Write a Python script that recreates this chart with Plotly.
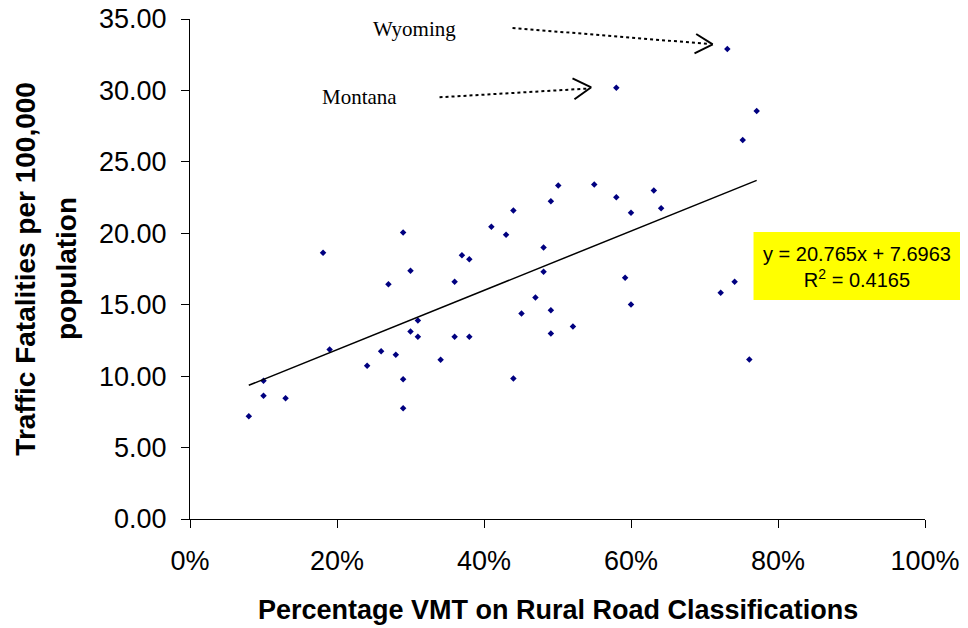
import plotly.graph_objects as go

# Share of VMT on rural road classifications (fraction) vs traffic fatalities per 100,000
rural_vmt_share = [0.080, 0.100, 0.100, 0.130, 0.181, 0.190, 0.241, 0.260, 0.270, 0.280,
                   0.290, 0.290, 0.290, 0.300, 0.300, 0.310, 0.310, 0.341, 0.360, 0.360,
                   0.370, 0.380, 0.380, 0.410, 0.430, 0.440, 0.440, 0.451, 0.470, 0.481,
                   0.481, 0.491, 0.491, 0.491, 0.501, 0.521, 0.550, 0.580, 0.580, 0.592,
                   0.600, 0.600, 0.631, 0.641, 0.722, 0.731, 0.741, 0.752, 0.761, 0.771]
fatality_rate = [7.20, 9.68, 8.63, 8.46, 18.63, 11.87, 10.73, 11.75, 16.43, 11.49,
                 20.05, 9.79, 7.76, 17.37, 13.13, 13.90, 12.75, 11.15, 16.60, 12.75,
                 18.46, 18.18, 12.75, 20.45, 19.89, 21.59, 9.84, 14.38, 15.50, 19.00,
                 17.30, 22.24, 14.62, 12.99, 23.34, 13.48, 23.41, 22.52, 30.19, 16.88,
                 21.43, 15.01, 23.00, 21.75, 15.83, 32.90, 16.60, 26.53, 11.17, 28.56]

trend_slope = 20.765
trend_intercept = 7.6963
trend_r2 = 0.4165

x_ticks = [0, 0.2, 0.4, 0.6, 0.8, 1.0]
y_ticks = [0, 5, 10, 15, 20, 25, 30, 35]

SANS = "Liberation Sans, Arial, sans-serif"
SERIF = "Liberation Serif, Times New Roman, serif"

fig = go.Figure()
fig.add_trace(go.Scatter(
    x=rural_vmt_share, y=fatality_rate, mode="markers",
    marker=dict(symbol="diamond", size=5, color="#000080", line=dict(width=0)),
    showlegend=False, hoverinfo="x+y"))

tx = [min(rural_vmt_share), max(rural_vmt_share)]
ty = [trend_slope * v + trend_intercept for v in tx]
fig.add_trace(go.Scatter(x=tx, y=ty, mode="lines",
                         line=dict(color="black", width=1.5),
                         showlegend=False, hoverinfo="skip"))

fig.update_layout(
    width=968, height=628,
    margin=dict(l=182, r=51, t=11, b=117, autoexpand=False),
    paper_bgcolor="white", plot_bgcolor="white",
    font=dict(family=SANS, color="black"),
    xaxis=dict(range=[0, 1], tickvals=x_ticks, tickformat=".0%", automargin=False,
               showgrid=False, zeroline=False, showline=True, linecolor="black",
               linewidth=1, ticks="outside", ticklen=8, tickcolor="black",
               tickfont=dict(size=27, family=SANS), ticklabelstandoff=10,
               ticklabeloverflow="allow"),
    yaxis=dict(range=[0, 35], tickvals=y_ticks, tickformat=".2f", automargin=False,
               showgrid=False, zeroline=False, showline=True, linecolor="black",
               linewidth=1, ticks="outside", ticklen=8, tickcolor="black",
               tickfont=dict(size=27, family=SANS), ticklabelstandoff=9,
               ticklabeloverflow="allow"),
)

# Axis titles
fig.add_annotation(text="<b>Percentage VMT on Rural Road Classifications</b>",
                   xref="paper", yref="paper", x=0.5, y=-0.182,
                   xanchor="center", yanchor="middle", showarrow=False,
                   font=dict(size=27, family=SANS))
fig.add_annotation(text="<b>Traffic Fatalities per 100,000</b>", textangle=-90,
                   xref="paper", yref="paper", x=-0.225, y=0.5,
                   xanchor="center", yanchor="middle", showarrow=False,
                   font=dict(size=28, family=SANS))
fig.add_annotation(text="<b>population</b>", textangle=-90,
                   xref="paper", yref="paper", x=-0.1687, y=0.5,
                   xanchor="center", yanchor="middle", showarrow=False,
                   font=dict(size=28, family=SANS))

# Trendline equation box
fig.add_shape(type="rect", xref="paper", yref="paper",
              x0=0.7667, x1=1.048, y0=0.438, y1=0.574,
              fillcolor="#FFFF00", line=dict(width=0), layer="above")
fig.add_annotation(text=f"y = {trend_slope}x + {trend_intercept}<br>R<sup>2</sup> = {trend_r2}",
                   xref="paper", yref="paper", x=0.907, y=0.505,
                   xanchor="center", yanchor="middle", showarrow=False, align="center",
                   font=dict(size=20, family=SANS))

# State labels with dotted arrows
labels = [("Wyoming", 0.3054, 34.30), ("Montana", 0.2306, 29.54)]
for name, lx, ly in labels:
    fig.add_annotation(text=name, x=lx, y=ly, xref="x", yref="y", showarrow=False,
                       xanchor="center", yanchor="middle",
                       font=dict(size=21, family=SERIF))

arrows = [
    # (start x, start y, end x, end y, arm1 x, arm1 y, arm2 x, arm2 y, tip x, tip y)
    (0.4388, 34.37, 0.7068, 33.25, 0.6887, 33.95, 0.6864, 32.60, 0.7112, 33.23),
    (0.3395, 29.52, 0.5408, 30.13, 0.5204, 30.85, 0.5231, 29.38, 0.5459, 30.22),
]
for sx, sy, ex, ey, a1x, a1y, a2x, a2y, tx_, ty_ in arrows:
    fig.add_shape(type="line", xref="x", yref="y", x0=sx, y0=sy, x1=ex, y1=ey,
                  line=dict(color="black", width=2, dash="dot"))
    fig.add_shape(type="line", xref="x", yref="y", x0=a1x, y0=a1y, x1=tx_, y1=ty_,
                  line=dict(color="black", width=2))
    fig.add_shape(type="line", xref="x", yref="y", x0=a2x, y0=a2y, x1=tx_, y1=ty_,
                  line=dict(color="black", width=2))

fig.write_html("out.html")
